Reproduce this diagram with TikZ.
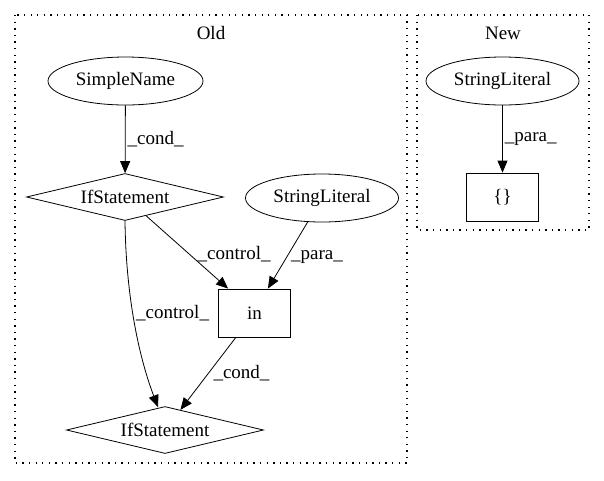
\documentclass[tikz,border=0pt]{standalone}
\usepackage{fontspec}
\setmainfont{Liberation Serif}
\usetikzlibrary{arrows.meta,shapes.geometric}

\begin{document}
\begin{tikzpicture}[x=1pt,y=-1pt,font=\fontsize{19}{21}\selectfont,
  every node/.style={inner sep=1pt},
  cluster/.style={line width=1.1pt,dash pattern=on 1.3pt off 5.3pt},
  ell/.style={draw,thick,ellipse,minimum width=153pt,minimum height=48pt},
  dia/.style={draw,thick,diamond,aspect=4.2,inner sep=0pt,minimum width=197pt,minimum height=47pt},
  box/.style={draw,thick,rectangle,minimum width=72pt,minimum height=48pt},
  edge/.style={thick,-{Triangle[length=12pt,width=10pt]}},
  lbl/.style={inner sep=2pt}]
                \useasboundingbox (0,0) rectangle (604,480);
                \draw[cluster] (15,15) rectangle (407,463);
                \draw[cluster] (417,15) rectangle (589,230);
                \node (oldlbl) at (211,33) {Old};
                \node (newlbl) at (503,33) {New};

                \node[ell,minimum width=155pt] (sname) at (125.5,81) {SimpleName};
                \node[dia] (ifa) at (125,197) {IfStatement};
                \node[ell] (slita) at (322,198) {StringLiteral};
                \node[box] (inbox) at (254.5,313) {in};
                \node[dia] (ifb) at (165,430) {IfStatement};
                \node[ell] (slitb) at (502.5,81) {StringLiteral};
                \node[box] (brace) at (502.5,197) {\{\}};

                \draw[edge] (sname) -- node[lbl,right]{\_cond\_} (ifa);
                \draw[edge] (ifa) -- node[lbl,pos=0.6,anchor=west,yshift=5pt]{\_control\_} ([xshift=10pt]inbox.north west);
                \draw[edge] (slita) -- node[lbl,pos=0.5,anchor=west,xshift=1pt,yshift=-2pt]{\_para\_} ([xshift=-23pt]inbox.north east);
                \draw[edge] (ifa.south) .. controls (126,300) and (140,360) .. ([xshift=-7pt,yshift=-1pt]ifb.north);
                \node[lbl,right] (ctllbl) at (134,313) {\_control\_};
                \draw[edge] (inbox) -- node[lbl,right,xshift=3pt]{\_cond\_} (ifb);
                \draw[edge] (slitb) -- node[lbl,right]{\_para\_} (brace);
            \end{tikzpicture}
\end{document}
